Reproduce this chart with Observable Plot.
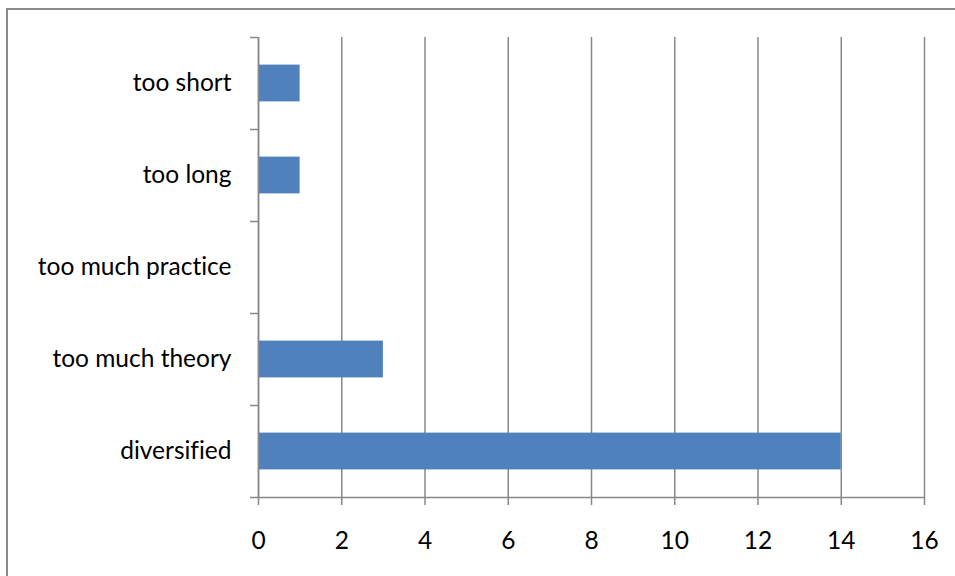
<!DOCTYPE html>
<html>
<head>
<meta charset="utf-8">
<script src="https://cdn.jsdelivr.net/npm/d3@7"></script>
<script src="https://cdn.jsdelivr.net/npm/@observablehq/plot@0.6"></script>
<style>
  html, body { margin: 0; padding: 0; background: #fff; overflow: hidden; }
  #wrap { position: relative; width: 955px; height: 576px; overflow: hidden; }
  #frame { position: absolute; left: 6px; top: 8px; width: 1200px; height: 1200px;
           border-left: 2px solid #8a8a8a; border-top: 2px solid #8a8a8a; box-sizing: border-box; }
  #chart { position: absolute; left: 0; top: 0; }
  #chart text { font-variant-ligatures: none; }
</style>
</head>
<body>
<div id="wrap"><div id="frame"></div><div id="chart"></div></div>
<script>
// Categories listed bottom to top
const categories = ["diversified", "too much theory", "too much practice", "too long", "too short"];
const values = [14, 3, 0, 1, 1];
const xTicks = [0, 2, 4, 6, 8, 10, 12, 14, 16];

const data = categories.map((c, i) => ({category: c, value: values[i], index: i}));
const centers = categories.map((c, i) => i + 0.5);
const boundaries = d3.range(categories.length + 1);

const gray = "#888888";
const chart = Plot.plot({
  width: 955,
  height: 576,
  marginLeft: 258,
  marginRight: 31,
  marginTop: 37,
  marginBottom: 79,
  style: {fontFamily: "Lato, 'Open Sans', sans-serif", fontSize: "24.5px", color: "#000", background: "transparent"},
  x: {domain: [0, 16]},
  y: {domain: [0, categories.length]},
  marks: [
    Plot.gridX(xTicks, {stroke: gray, strokeOpacity: 1, strokeWidth: 1.5}),
    Plot.rectX(data, {
      x1: 0, x2: "value",
      y1: d => d.index + 0.3, y2: d => d.index + 0.7,
      fill: "#4F81BD"
    }),
    Plot.ruleX([0], {stroke: gray, strokeWidth: 1.5}),
    Plot.ruleY([0], {stroke: gray, strokeWidth: 1.5}),
    Plot.axisX({ticks: xTicks, tickSize: 8, tickPadding: 26, stroke: gray, strokeWidth: 1.5, label: null, fill: "#000", fontSize: 24.5}),
    Plot.axisY({ticks: boundaries, tickSize: 8, tickFormat: () => "", stroke: gray, strokeWidth: 1.5, label: null}),
    Plot.axisY({ticks: centers, tickSize: 0, tickPadding: 27, tickFormat: v => categories[Math.floor(v)], label: null, fill: "#000", fontSize: 24.5})
  ]
});
document.getElementById("chart").appendChild(chart);
</script>
</body>
</html>
